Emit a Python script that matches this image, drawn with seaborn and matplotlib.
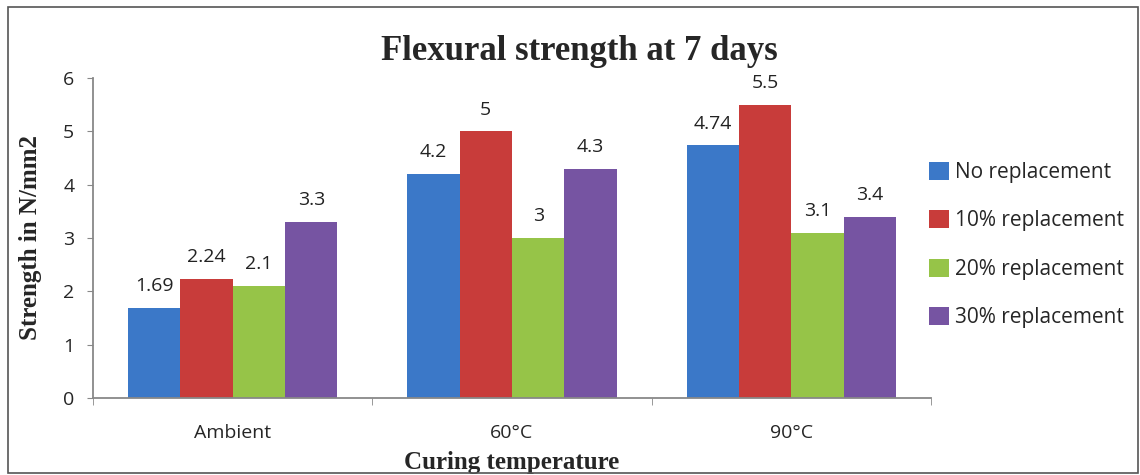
import pandas as pd
import numpy as np
import matplotlib.pyplot as plt
import matplotlib as mpl
import seaborn as sns
from matplotlib.patches import Rectangle

# --- Data ---
temps = ["Ambient", "60°C", "90°C"]
series = ["No replacement", "10% replacement", "20% replacement", "30% replacement"]
no_rep = [1.69, 4.2, 4.74]
rep_10 = [2.24, 5.0, 5.5]
rep_20 = [2.1, 3.0, 3.1]
rep_30 = [3.3, 4.3, 3.4]
labels = [["1.69", "4.2", "4.74"], ["2.24", "5", "5.5"],
          ["2.1", "3", "3.1"], ["3.3", "4.3", "3.4"]]

df = pd.DataFrame({
    "temp": temps * 4,
    "series": np.repeat(series, 3),
    "value": no_rep + rep_10 + rep_20 + rep_30,
})

palette = {"No replacement": "#3b78c8", "10% replacement": "#c83c3a",
           "20% replacement": "#96c448", "30% replacement": "#7654a2"}

sns.set_style("white")
mpl.rcParams["font.family"] = ["Open Sans", "DejaVu Sans"]

fig = plt.figure(figsize=(11.4, 4.75), dpi=100)
ax = fig.add_axes([0.0816, 0.162, 0.735, 0.674])

sns.barplot(data=df, x="temp", y="value", hue="series", palette=palette,
            width=0.75, saturation=1, edgecolor="none", ax=ax)

for cont, labs in zip(ax.containers, labels):
    ax.bar_label(cont, labels=labs, padding=9, fontsize=14, color="#222222")

ax.set_ylim(0, 6)
ax.set_xlim(-0.5, 2.5)
ax.set_yticks(range(0, 7))
ax.tick_params(axis="y", labelsize=14, length=4.5, color="#888888", direction="out", left=True, pad=9)
ax.tick_params(axis="x", which="major", labelsize=14, length=0, pad=19)
ax.set_xticks([-0.5, 0.5, 1.5, 2.5], minor=True)
ax.tick_params(axis="x", which="minor", length=5, color="#888888", direction="out", bottom=True)
for s in ["top", "right"]:
    ax.spines[s].set_visible(False)
for s in ["left", "bottom"]:
    ax.spines[s].set_color("#888888")
    ax.spines[s].set_linewidth(1.3)

ax.set_ylabel("Strength in N/mm2", family="Liberation Serif", fontweight="bold", fontsize=18)
ax.yaxis.set_label_coords(-0.061, 0.5)
ax.set_xlabel("Curing temperature", family="Liberation Serif", fontweight="bold",
              fontsize=18, labelpad=6)
ax.set_title("Flexural strength at 7 days", family="Liberation Serif", fontweight="bold",
             fontsize=25, pad=13, x=0.581)

ax.legend(title=None, loc="center left", bbox_to_anchor=(0.998, 0.478), frameon=False,
          fontsize=15, handlelength=0.95, handleheight=0.95, handletextpad=0.3,
          labelspacing=1.3, borderpad=0, borderaxespad=0)

# outer border
fig.patches.append(Rectangle((0.007, 0.004), 0.991, 0.981, transform=fig.transFigure,
                             fill=False, edgecolor="#555555", linewidth=1.2))

plt.savefig("out.png", dpi=100)
plt.close()
